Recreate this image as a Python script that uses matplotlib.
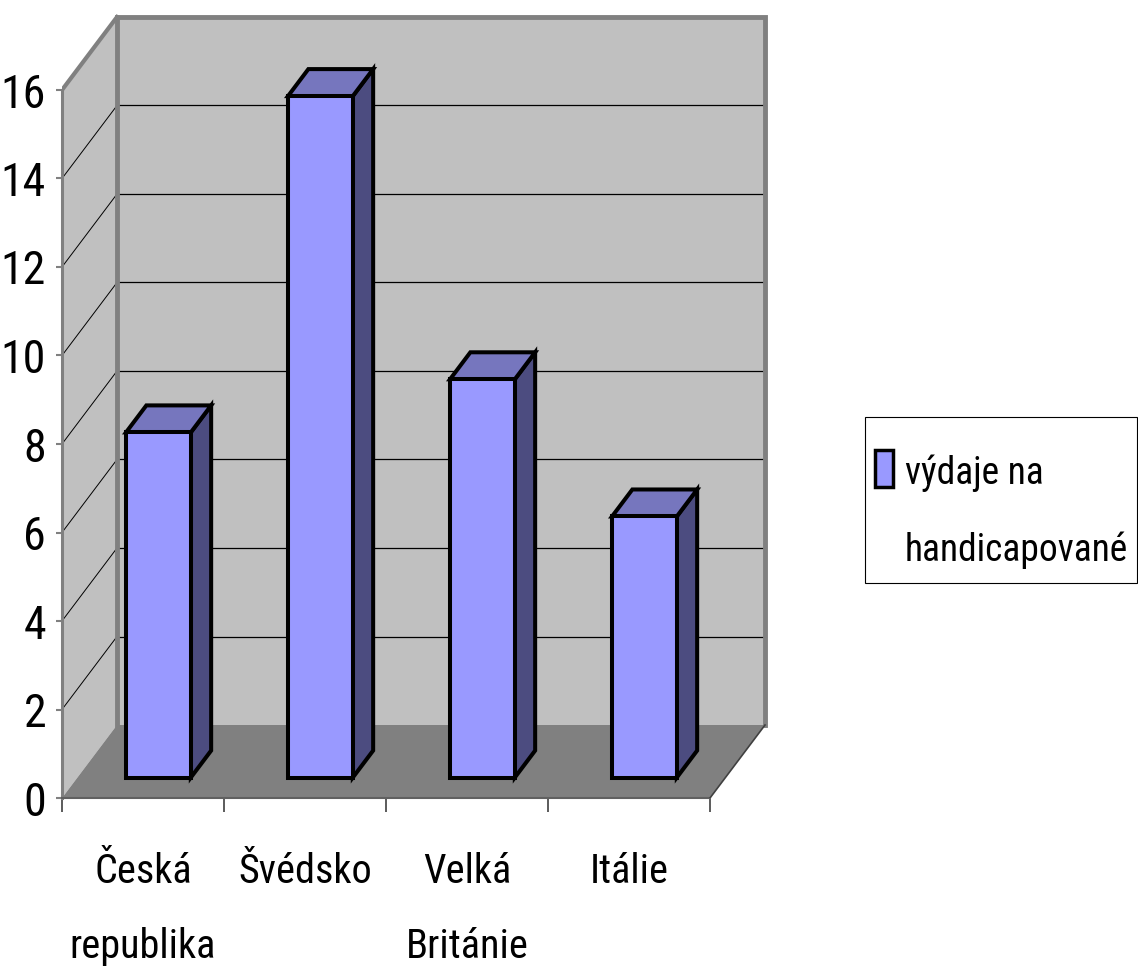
import matplotlib
matplotlib.use("Agg")
import matplotlib.pyplot as plt
from matplotlib.patches import Polygon, Rectangle

# data
categories = ["Česká\nrepublika", "Švédsko", "Velká\nBritánie", "Itálie"]
values = [7.8, 15.4, 9.0, 5.9]
series_name = "výdaje na\nhandicapované"
y_ticks = [0, 2, 4, 6, 8, 10, 12, 14, 16]

# narrow sans first, plain Liberation Sans if none is installed
FONT = ["Roboto Condensed", "Archivo Narrow", "PT Sans Narrow",
        "Liberation Sans", "DejaVu Sans"]
WALL = "#C0C0C0"
FLOOR = "#808080"
EDGE = "#808080"
BAR_FRONT = "#9999FF"
BAR_TOP = "#7676BE"
BAR_SIDE = "#4C4C80"

W, H = 1138, 971
fig = plt.figure(figsize=(W / 100, H / 100), dpi=100)

# front plane of the 3D box, in pixels
ax_l, ax_r, ax_t, ax_b = 62, 790, 8, 798
cat_px, unit_px = 162, 44.25
ax = fig.add_axes([ax_l / W, 1 - ax_b / H, (ax_r - ax_l) / W, (ax_b - ax_t) / H])
ax.set_xlim(0, (ax_r - ax_l) / cat_px)
ax.set_ylim(0, (ax_b - ax_t) / unit_px)
ax.patch.set_visible(False)

# depth offset of the oblique projection (data units)
DX = 55 / cat_px
DY = 73 / unit_px
n = len(categories)
ymax = y_ticks[-1]

# walls and floor
ax.add_patch(Polygon([(0, 0), (0, ymax), (DX, ymax + DY), (DX, DY)],
                     fc=WALL, ec="none", zorder=1))
ax.add_patch(Polygon([(DX, DY), (DX, ymax + DY), (n + DX, ymax + DY), (n + DX, DY)],
                     fc=WALL, ec="none", zorder=1))
ax.add_patch(Polygon([(0, 0), (n, 0), (n + DX, DY), (DX, DY)],
                     fc=FLOOR, ec="none", zorder=1))

# gridlines on back wall and side wall
for v in y_ticks[1:-1]:
    ax.plot([DX, n + DX], [v + DY, v + DY], color="black", lw=0.9, zorder=2)
    ax.plot([0, DX], [v, v + DY], color="black", lw=0.7, zorder=2)

# wall borders
ax.plot([DX, DX, n + DX, n + DX], [DY, ymax + DY, ymax + DY, DY],
        color=EDGE, lw=3.5, zorder=3, solid_joinstyle="miter")
ax.plot([0, DX], [ymax, ymax + DY], color=EDGE, lw=3, zorder=3)
ax.plot([n, n + DX], [0, DY], color="#404040", lw=1.2, zorder=3)

# 3D bars
z0, z1 = 0.28, 0.65
bw = 0.4
ddx, ddy = (z1 - z0) * DX, (z1 - z0) * DY
for i, v in enumerate(values):
    x0 = i + (1 - bw) / 2 + z0 * DX
    x1 = x0 + bw
    b = z0 * DY
    t = v + b
    kw = dict(ec="black", lw=2.9, joinstyle="miter", zorder=4 + i)
    ax.add_patch(Polygon([(x1, b), (x1, t), (x1 + ddx, t + ddy), (x1 + ddx, b + ddy)],
                         fc=BAR_SIDE, **kw))
    ax.add_patch(Polygon([(x0, t), (x1, t), (x1 + ddx, t + ddy), (x0 + ddx, t + ddy)],
                         fc=BAR_TOP, **kw))
    ax.add_patch(Rectangle((x0, b), bw, v, fc=BAR_FRONT, **kw))

# axes
for s in ["top", "right"]:
    ax.spines[s].set_visible(False)
ax.spines["left"].set_bounds(0, ymax)
ax.spines["left"].set_color(EDGE)
ax.spines["left"].set_linewidth(2.2)
ax.spines["bottom"].set_bounds(0, n)
ax.spines["bottom"].set_color("#606060")
ax.spines["bottom"].set_linewidth(1.5)

ax.set_yticks(y_ticks, [str(t) for t in y_ticks], fontsize=33, family=FONT)
ax.tick_params(axis="y", direction="out", length=4.5, width=1.5, color=EDGE, pad=7)

ax.set_xticks(range(n + 1), [""] * (n + 1))
ax.tick_params(axis="x", which="major", length=10, width=1.2, color="#404040")
ax.set_xticks([i + 0.5 for i in range(n)], categories, minor=True,
              fontsize=29, family=FONT, linespacing=2.15)
ax.tick_params(axis="x", which="minor", length=0, pad=39)

# legend box
fig.add_artist(Rectangle((865 / W, 1 - 583 / H), (1137 - 865) / W, (583 - 417) / H,
                         transform=fig.transFigure, fc="white", ec="black", lw=0.8))
fig.add_artist(Rectangle((875 / W, 1 - 487 / H), 18 / W, 37 / H,
                         transform=fig.transFigure, fc=BAR_FRONT, ec="black", lw=2.5))
fig.text(905 / W, 1 - 512 / H, series_name, fontsize=27, family=FONT,
         va="center", ha="left", linespacing=2.35)

fig.savefig("out.png", dpi=100)
